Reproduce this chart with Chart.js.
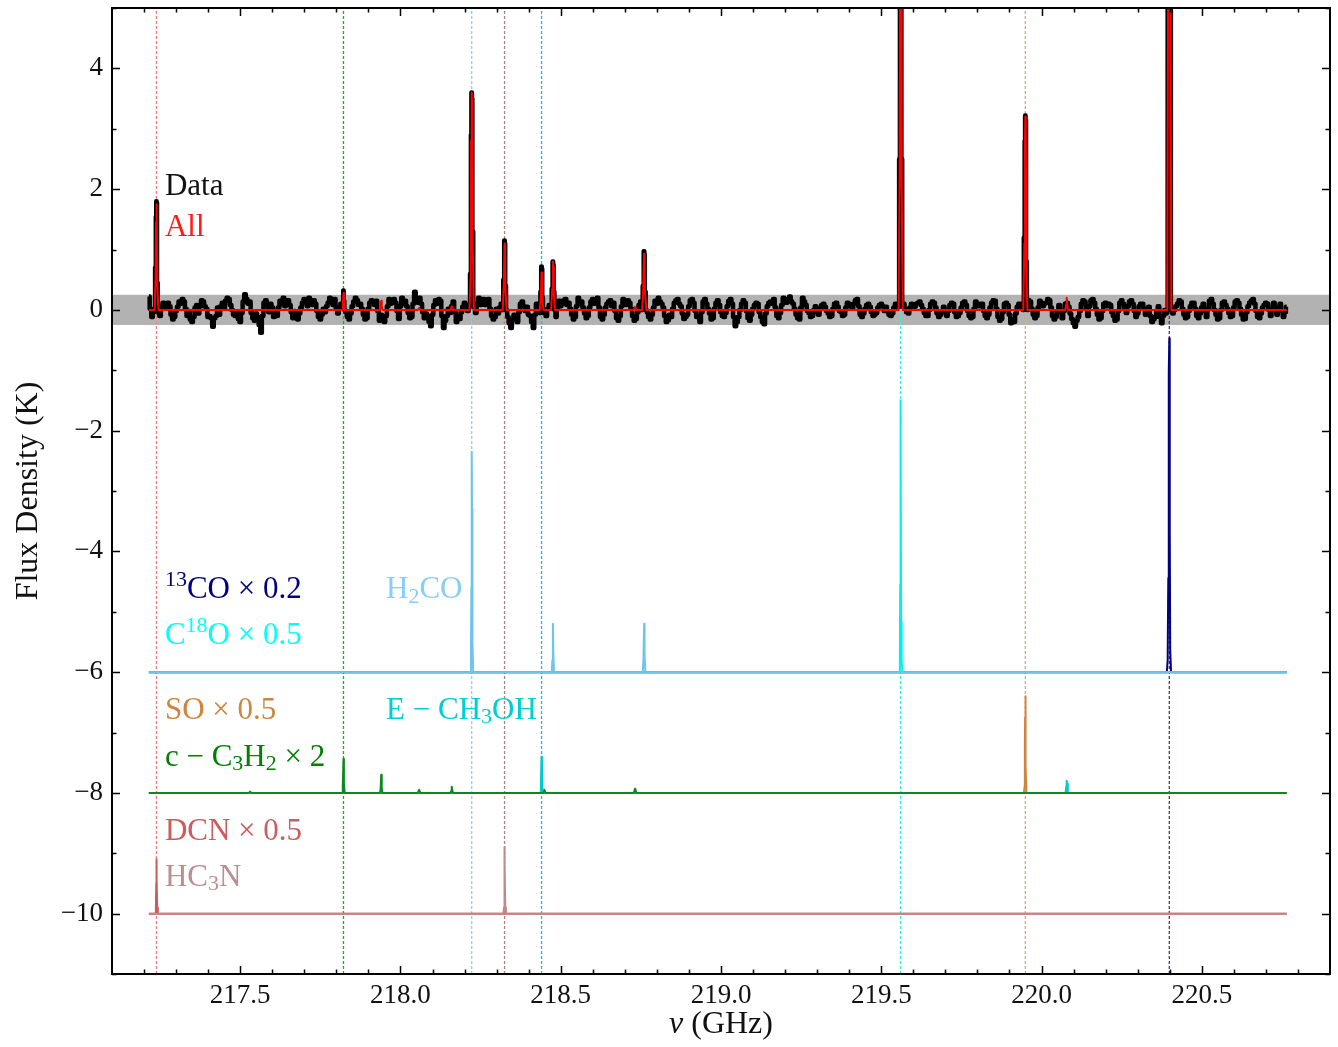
<!DOCTYPE html>
<html>
<head>
<meta charset="utf-8">
<script src="https://cdn.jsdelivr.net/npm/chart.js@4/dist/chart.umd.min.js"></script>
<style>html,body{margin:0;padding:0;background:#fff;}canvas{display:block;}</style>
</head>
<body>
<canvas id="c" width="1338" height="1047"></canvas>
<script>
// ================= DATA =================
const xTickValues = [217.5, 218.0, 218.5, 219.0, 219.5, 220.0, 220.5];
const yTickValues = [-10, -8, -6, -4, -2, 0, 2, 4];

// observed spectrum: noise channels (K), starting at 217.215 GHz every 0.01 GHz
const noiseStart = 217.215;
const noiseStep = 0.01;
const noiseValues = [
  0.22,-0.12,0.08,-0.05,0.05,0.10,0.12,-0.08,-0.12,0.05,
  0.10,0.14,-0.10,-0.16,-0.12,0.08,0.06,0.14,0.02,-0.10,
  -0.28,-0.10,-0.08,0.12,0.15,0.18,0.00,-0.10,-0.15,-0.05,
  0.26,0.10,-0.05,-0.18,-0.12,-0.38,0.12,0.06,0.10,-0.12,
  -0.10,0.15,0.20,0.12,0.08,-0.14,-0.10,-0.06,0.12,0.16,
  0.20,0.08,0.10,-0.12,-0.08,-0.04,0.12,0.16,0.18,-0.06,
  0.10,0.05,-0.12,-0.06,0.14,0.16,0.10,-0.08,-0.14,0.12,
  0.10,0.15,-0.18,-0.10,-0.10,0.18,0.12,0.12,-0.15,0.20,
  0.15,-0.05,-0.12,0.30,0.12,0.10,-0.14,-0.10,-0.27,0.08,
  0.10,0.15,-0.30,-0.10,-0.05,0.14,-0.20,-0.15,0.05,0.08,
  0.05,0.10,-0.05,0.20,0.14,0.08,0.18,-0.10,-0.12,-0.06,
  0.10,0.05,-0.12,-0.30,-0.08,-0.20,0.10,0.06,0.05,-0.10,
  -0.30,0.10,-0.05,0.05,-0.10,0.08,0.05,-0.12,0.15,0.10,
  0.18,0.12,-0.08,-0.12,0.20,0.14,-0.06,-0.10,0.14,0.10,
  0.20,-0.12,-0.08,0.10,0.16,0.12,-0.14,-0.10,0.18,0.08,
  0.12,-0.10,-0.15,0.08,0.05,0.10,-0.12,-0.08,0.15,0.20,
  0.10,-0.10,-0.17,-0.12,0.12,0.18,0.06,-0.15,-0.08,0.16,
  0.12,-0.12,-0.20,0.14,0.10,-0.06,-0.14,0.12,0.08,-0.10,
  -0.05,0.15,0.10,-0.27,-0.12,0.10,0.12,-0.14,-0.08,0.08,
  0.10,-0.12,-0.24,0.06,0.14,0.18,-0.10,-0.05,0.20,0.12,
  0.22,0.10,-0.08,-0.16,0.20,0.08,-0.05,-0.10,0.06,-0.08,
  0.08,0.05,-0.06,-0.10,0.10,0.05,-0.04,-0.08,0.12,0.06,
  0.10,0.18,-0.08,-0.06,0.08,0.05,-0.10,-0.05,0.08,0.06,
  0.05,-0.08,-0.06,0.10,0.00,0.08,0.02,-0.06,0.10,0.05,
  0.12,0.08,-0.05,-0.10,0.10,0.12,-0.06,-0.08,0.05,-0.10,
  0.08,0.10,-0.12,-0.05,0.12,0.08,-0.10,-0.12,0.14,0.06,
  0.10,-0.10,-0.08,0.12,0.15,-0.12,-0.15,0.10,0.08,-0.22,
  -0.20,0.05,0.10,0.00,0.12,0.14,-0.08,-0.10,0.15,0.06,
  0.12,0.16,-0.10,-0.12,0.08,-0.14,0.10,0.05,-0.15,-0.28,
  -0.12,0.10,0.14,-0.10,0.16,0.12,-0.08,-0.14,0.10,0.06,
  0.08,-0.10,-0.16,0.12,0.10,-0.05,0.14,0.10,-0.12,0.06,
  0.10,-0.08,0.05,-0.20,-0.12,0.06,-0.22,0.00,-0.10,-0.15,
  0.00,0.10,0.14,-0.08,-0.12,0.06,0.12,-0.10,-0.06,0.10,
  -0.12,0.15,0.10,-0.08,-0.14,0.12,0.08,-0.05,-0.10,0.14,
  0.12,-0.08,-0.15,0.06,0.15,0.10,-0.12,-0.06,0.08,0.10,
  -0.10,0.12,-0.08,0.10,-0.12,0.05
];
// observed spectrum: in-between noise channels (K), at 217.220 GHz every 0.01 GHz
const noiseMidStart = 217.220;
const noiseMidValues = [
  0.02,-0.04,0.10,-0.10,0.12,0.02,0.06,-0.16,-0.02,0.14,
  0.18,0.02,-0.02,-0.20,0.04,-0.06,0.16,0.06,-0.12,-0.14,
  -0.14,0.04,0.06,0.02,0.20,0.08,-0.08,-0.04,-0.20,0.14,
  0.18,0.14,-0.14,-0.06,-0.25,-0.10,0.16,-0.04,0.04,-0.02,
  0.04,0.10,0.06,0.16,-0.04,-0.02,-0.16,0.04,0.18,0.06,
  0.12,0.16,-0.02,-0.16,0.02,0.06,0.20,0.08,0.04,0.02,
  0.14,-0.04,-0.16,0.06,0.20,0.08,0.02,-0.16,0.02,0.16,
  0.08,-0.02,-0.08,-0.20,0.06,0.10,0.18,-0.02,0.06,0.10,
  0.06,-0.14,0.10,0.16,0.20,-0.04,-0.06,-0.20,-0.08,0.16,
  0.18,-0.10,-0.18,0.02,0.06,-0.04,-0.10,-0.04,0.12,-0.02,
  0.12,0.04,0.10,0.08,0.18,0.12,0.02,-0.16,0.02,0.04,
  -0.02,-0.04,-0.22,-0.16,-0.14,-0.04,0.14,-0.02,-0.08,-0.20,
  -0.08,0.04,0.08,-0.06,0.02,-0.04,-0.06,0.04,0.06,0.16,
  0.08,0.02,-0.16,0.06,0.10,0.04,-0.14,0.04,0.18,0.14,
  0.04,-0.16,0.04,0.14,0.06,-0.02,-0.18,0.06,0.12,0.16,
  0.02,-0.18,-0.04,0.14,-0.02,-0.04,-0.16,0.04,0.10,0.14,
  0.04,-0.20,-0.08,0.02,0.16,0.10,-0.06,-0.12,0.06,0.18,
  -0.02,-0.10,-0.04,0.18,0.02,-0.16,0.02,0.16,-0.04,-0.12,
  0.06,0.18,-0.12,-0.20,0.00,0.16,-0.02,-0.18,0.02,0.12,
  -0.04,-0.20,-0.06,0.12,0.10,0.04,-0.14,0.08,0.16,0.18,
  0.14,0.02,-0.14,0.04,0.14,-0.02,-0.12,0.00,-0.04,0.02,
  0.10,-0.02,-0.12,0.02,0.12,-0.02,-0.10,0.04,0.10,0.02,
  0.16,0.06,-0.12,0.02,0.10,-0.04,-0.08,0.04,0.10,-0.02,
  -0.02,-0.10,0.04,0.06,0.04,0.10,-0.04,0.04,0.08,0.10,
  0.14,0.02,-0.10,0.00,0.14,0.04,-0.12,-0.02,-0.04,-0.02,
  0.12,-0.04,-0.10,0.04,0.14,-0.02,-0.14,0.02,0.10,0.10,
  -0.02,-0.14,0.04,0.16,0.02,-0.18,-0.04,0.12,-0.08,-0.16,
  -0.06,0.10,0.04,0.08,0.16,0.02,-0.14,0.04,0.12,0.10,
  0.18,0.04,-0.16,-0.02,-0.04,-0.02,0.12,-0.06,-0.22,-0.18,
  -0.02,0.16,0.02,0.06,0.18,0.02,-0.16,-0.02,0.12,0.10,
  -0.04,-0.18,-0.02,0.16,0.04,0.06,0.16,-0.02,-0.06,0.10,
  0.02,-0.02,-0.10,-0.16,-0.04,-0.12,-0.10,-0.06,-0.16,-0.06,
  0.06,0.16,0.02,-0.14,-0.02,0.12,0.02,-0.14,0.04,-0.02,
  0.02,0.18,0.00,-0.16,0.00,0.14,0.02,-0.12,0.04,0.16,
  0.02,-0.16,-0.04,0.12,0.18,-0.02,-0.14,0.04,0.12,0.00,
  0.02,0.04,0.02,-0.02,-0.04
];
// observed spectrum: emission line channels [GHz, K]
const dataPeaks = [
  [[217.233,0.02],[217.236,0.70],[217.2375,1.55],[217.2386,1.80],[217.2398,1.78],[217.241,0.45],[217.244,0.00]],
  [[217.818,0.02],[217.8205,0.12],[217.8222,0.32],[217.8235,0.15],[217.826,0.00]],
  [[218.215,0.05],[218.219,0.60],[218.2205,2.90],[218.2222,3.60],[218.2235,3.50],[218.225,1.30],[218.229,0.05]],
  [[218.319,0.00],[218.3225,0.50],[218.3247,1.15],[218.326,1.10],[218.3275,0.40],[218.331,0.00]],
  [[218.435,-0.05],[218.438,0.30],[218.4401,0.72],[218.4415,0.68],[218.443,0.20],[218.446,0.00]],
  [[218.470,0.02],[218.4735,0.35],[218.4756,0.80],[218.477,0.75],[218.4785,0.30],[218.482,0.00]],
  [[218.754,0.00],[218.7575,0.40],[218.7601,0.97],[218.7615,0.92],[218.763,0.30],[218.767,0.00]],
  [[219.554,0.05],[219.5575,2.50],[219.559,7.00],[219.5604,9.00],[219.562,8.00],[219.5635,2.50],[219.567,0.05]],
  [[219.943,0.00],[219.9465,1.20],[219.9482,2.80],[219.9494,3.22],[219.9508,3.15],[219.9525,0.80],[219.956,0.00]],
  [[220.392,0.00],[220.395,6.0],[220.397,20.0],[220.3987,27.0],[220.400,22.0],[220.402,6.0],[220.405,0.00]]
];
// total model ("All") emission lines [GHz, K]
const modelPeaks = [
  [[217.233,0],[217.236,0.55],[217.2375,1.45],[217.2386,1.75],[217.240,1.60],[217.2415,0.40],[217.245,0]],
  [[217.818,0],[217.8205,0.12],[217.8222,0.28],[217.8237,0.12],[217.826,0]],
  [[217.936,0],[217.9385,0.06],[217.940,0.15],[217.9415,0.06],[217.944,0]],
  [[218.054,0],[218.058,0.03],[218.062,0]],
  [[218.156,0],[218.160,0.06],[218.164,0]],
  [[218.215,0],[218.219,0.55],[218.2205,2.80],[218.2222,3.60],[218.2235,3.40],[218.225,1.20],[218.229,0]],
  [[218.319,0],[218.3225,0.45],[218.3247,1.10],[218.326,1.05],[218.3275,0.35],[218.331,0]],
  [[218.435,0],[218.438,0.25],[218.4401,0.62],[218.4415,0.55],[218.443,0.15],[218.446,0]],
  [[218.470,0],[218.4735,0.35],[218.4756,0.80],[218.477,0.72],[218.4785,0.25],[218.482,0]],
  [[218.728,0],[218.732,0.05],[218.736,0]],
  [[218.754,0],[218.7575,0.38],[218.7601,0.93],[218.7615,0.85],[218.763,0.28],[218.767,0]],
  [[219.554,0],[219.5575,2.40],[219.559,7.00],[219.5604,9.00],[219.562,7.50],[219.5635,2.20],[219.567,0]],
  [[219.943,0],[219.9465,1.10],[219.9482,2.70],[219.9494,3.20],[219.9508,3.05],[219.9525,0.70],[219.956,0]],
  [[220.074,0],[220.0765,0.08],[220.0785,0.20],[220.080,0.08],[220.083,0]],
  [[220.392,0],[220.395,5.5],[220.397,19.0],[220.3987,27.7],[220.400,21.0],[220.402,5.5],[220.405,0]]
];
const spectrumRange = [217.215, 220.765];
const rmsBand = [-0.25, 0.25];

// species components (scaled as labelled), heights above their offset [GHz, K]
const compNames   = ['13CO', 'C18O', 'H2CO', 'SO', 'E-CH3OH', 'c-C3H2', 'DCN', 'HC3N'];
const compOffsets = [-6, -6, -6, -8, -8, -8, -10, -10];
const compPeaks = [
  [ [[220.391,0],[220.3935,0.2],[220.3955,1.56],[220.397,4.98],[220.3987,5.53],[220.400,2.33],[220.4015,0.37],[220.404,0]] ],
  [ [[219.556,0],[219.558,0.2],[219.559,1.45],[219.5597,4.5],[219.5604,4.5],[219.561,3.77],[219.562,0.83],[219.5635,0.2],[219.566,0]] ],
  [ [[218.218,0],[218.220,0.4],[218.2212,1.4],[218.2222,3.65],[218.2232,2.7],[218.2245,0.5],[218.227,0]],
    [[218.472,0],[218.474,0.2],[218.4756,0.8],[218.477,0.3],[218.479,0]],
    [[218.756,0],[218.758,0.2],[218.7601,0.8],[218.7615,0.3],[218.764,0]] ],
  [ [[219.945,0],[219.947,0.1],[219.948,0.8],[219.9488,1.25],[219.9494,1.6],[219.951,0.45],[219.953,0]] ],
  [ [[218.436,0],[218.438,0.1],[218.4401,0.6],[218.4415,0.2],[218.444,0]],
    [[220.075,0],[220.077,0.1],[220.0785,0.2],[220.080,0.15],[220.082,0]] ],
  [ [[217.527,0],[217.531,0.02],[217.535,0]],
    [[217.818,0],[217.820,0.1],[217.8222,0.56],[217.8235,0.15],[217.826,0]],
    [[217.936,0],[217.938,0.06],[217.940,0.3],[217.9415,0.08],[217.944,0]],
    [[218.054,0],[218.058,0.05],[218.062,0]],
    [[218.156,0],[218.158,0.03],[218.160,0.1],[218.162,0.03],[218.164,0]],
    [[218.445,0],[218.449,0.05],[218.453,0]],
    [[218.728,0],[218.732,0.07],[218.736,0]] ],
  [ [[217.235,0],[217.237,0.1],[217.238,0.5],[217.2386,0.9],[217.2395,0.6],[217.241,0.1],[217.243,0]] ],
  [ [[218.321,0],[218.323,0.1],[218.324,0.6],[218.3247,1.1],[218.3255,0.8],[218.327,0.1],[218.329,0]] ]
];

// rest frequencies of identified lines (GHz)
const lineFreqs = [217.2386, 217.8222, 218.2222, 218.3247, 218.4401, 219.5604, 219.9494, 220.3987];

// text labels: list of [text, 'sup'|'sub'|'']
const labelParts = [
  [['Data','']],
  [['All','']],
  [['13','sup'],['CO \u00d7 0.2','']],
  [['C',''],['18','sup'],['O \u00d7 0.5','']],
  [['H',''],['2','sub'],['CO','']],
  [['SO \u00d7 0.5','']],
  [['E \u2212 CH',''],['3','sub'],['OH','']],
  [['c \u2212 C',''],['3','sub'],['H',''],['2','sub'],[' \u00d7 2','']],
  [['DCN \u00d7 0.5','']],
  [['HC',''],['3','sub'],['N','']]
];
const xTitleParts = [['\u03bd', 'italic'], [' (GHz)', 'normal']];

// ================= STYLE / LAYOUT =================
const compColors = ['#000080', '#00f0f0', '#6fc3ef', '#cd853f', '#00c8cc', '#0a8a1e', '#cd5c5c', '#c08888'];
const compOrder  = [10, 9, 8, 7, 6, 5, 4, 3];
const lineColors = ['#f08080', '#00c000', '#87cefa', '#b08080', '#10c4c4', '#30f0f0', '#e0a870', '#6a2a6a'];
const labelColors = ['#111111', '#ff1a1a', '#000080', '#00ffff', '#87cefa', '#cd853f', '#00ced1', '#008000', '#cd5c5c', '#bc8f8f'];
const labelPos = [
  [217.265, 2.04], [217.265, 1.36], [217.265, -4.64], [217.265, -5.40], [217.955, -4.64],
  [217.265, -6.64], [217.955, -6.64], [217.265, -7.42], [217.265, -8.64], [217.265, -9.40]
];
const FONT = '"Liberation Serif", "Times New Roman", serif';

// ================= BUILD =================
function flatPeaks(peaks, offset) {
  const pts = [];
  peaks.forEach(p => p.forEach(([f, v]) => pts.push({x: f, y: v + offset})));
  return pts;
}
const dataWindows = dataPeaks.map(p => [p[0][0], p[p.length - 1][0]]);
const inWin = f => dataWindows.some(w => f >= w[0] && f <= w[1]);
const dataPts = [];
noiseValues.forEach((v, i) => {
  const f = noiseStart + i * noiseStep;
  if (!inWin(f)) dataPts.push({x: f, y: v});
});
noiseMidValues.forEach((v, i) => {
  const f = noiseMidStart + i * noiseStep;
  if (!inWin(f)) dataPts.push({x: f, y: v});
});
flatPeaks(dataPeaks, 0).forEach(p => dataPts.push(p));
dataPts.sort((a, b) => a.x - b.x);

const modelPts = [{x: spectrumRange[0], y: 0}].concat(flatPeaks(modelPeaks, 0), [{x: spectrumRange[1], y: 0}]);
modelPts.sort((a, b) => a.x - b.x);

const datasets = [];
datasets.push({label: 'All', data: modelPts, borderColor: '#ff0000', borderWidth: 2, order: 1});
datasets.push({label: 'Data', data: dataPts, borderColor: '#000000', borderWidth: 4.5, order: 2, stepped: 'middle'});
compNames.forEach((n, i) => {
  const off = compOffsets[i];
  const pts = [{x: spectrumRange[0], y: off}].concat(flatPeaks(compPeaks[i], off), [{x: spectrumRange[1], y: off}]);
  pts.sort((a, b) => a.x - b.x);
  datasets.push({label: n, data: pts, borderColor: compColors[i], borderWidth: 2, order: compOrder[i]});
});
lineFreqs.forEach((f, i) => {
  datasets.push({label: 'line' + i, data: [{x: f, y: -11}, {x: f, y: 5}], borderColor: lineColors[i],
    borderWidth: 1.3, borderDash: [3, 2], order: 30 + i});
});
datasets.forEach(d => { d.pointRadius = 0; d.borderJoinStyle = 'round'; d.clip = 0; d.fill = false; d.tension = 0; });

const bandPlugin = {
  id: 'band',
  beforeDatasetsDraw(chart) {
    const {ctx, chartArea: a, scales: {y}} = chart;
    const y1 = y.getPixelForValue(rmsBand[1]), y0 = y.getPixelForValue(rmsBand[0]);
    ctx.save();
    ctx.fillStyle = '#b2b2b2';
    ctx.fillRect(a.left, y1, a.right - a.left, y0 - y1);
    ctx.restore();
  }
};

const framePlugin = {
  id: 'frame',
  afterDatasetsDraw(chart) {
    const {ctx, chartArea: a, scales: {x, y}} = chart;
    ctx.save();
    ctx.strokeStyle = '#000';
    ctx.lineWidth = 1.5;
    ctx.beginPath();
    const maj = 8, mnr = 4.5;
    for (let k = 2172; k <= 2208; k++) {
      const v = k / 10;
      const isMaj = k % 5 === 0;
      const px = Math.round(x.getPixelForValue(v)) + 0.5;
      const L = isMaj ? maj : mnr;
      ctx.moveTo(px, a.bottom); ctx.lineTo(px, a.bottom - L);
      ctx.moveTo(px, a.top); ctx.lineTo(px, a.top + L);
    }
    for (let v = -11; v <= 5; v++) {
      const isMaj = v % 2 === 0;
      const py = Math.round(y.getPixelForValue(v)) + 0.5;
      const L = isMaj ? maj : mnr;
      ctx.moveTo(a.left, py); ctx.lineTo(a.left + L, py);
      ctx.moveTo(a.right, py); ctx.lineTo(a.right - L, py);
    }
    ctx.stroke();
    ctx.lineWidth = 2;
    ctx.strokeRect(a.left, a.top, a.right - a.left, a.bottom - a.top);
    ctx.restore();
  }
};

const labelPlugin = {
  id: 'labels',
  afterDatasetsDraw(chart) {
    const {ctx, scales: {x, y}, chartArea: a} = chart;
    const size = 31;
    ctx.save();
    ctx.textBaseline = 'middle';
    ctx.textAlign = 'left';
    labelParts.forEach((parts, i) => {
      let cx = x.getPixelForValue(labelPos[i][0]);
      const cy = y.getPixelForValue(labelPos[i][1]);
      ctx.fillStyle = labelColors[i];
      parts.forEach(([t, mode]) => {
        const fs = mode ? Math.round(size * 0.7) : size;
        ctx.font = fs + 'px ' + FONT;
        const dy = mode === 'sup' ? -size * 0.3 : (mode === 'sub' ? size * 0.22 : 0);
        ctx.fillText(t, cx, cy + dy);
        cx += ctx.measureText(t).width;
      });
    });
    // x-axis title with italic nu, centred under the plot area
    const tsz = 32;
    let total = 0;
    xTitleParts.forEach(([t, st]) => { ctx.font = st + ' ' + tsz + 'px ' + FONT; total += ctx.measureText(t).width; });
    let tx = (a.left + a.right) / 2 - total / 2;
    ctx.fillStyle = '#111';
    xTitleParts.forEach(([t, st]) => {
      ctx.font = st + ' ' + tsz + 'px ' + FONT;
      ctx.fillText(t, tx, 1025);
      tx += ctx.measureText(t).width;
    });
    ctx.restore();
  }
};

function make() {
  Chart.defaults.font.family = FONT;
  Chart.defaults.color = '#111';
  new Chart(document.getElementById('c'), {
    type: 'line',
    data: {datasets},
    options: {
      responsive: false,
      animation: false,
      devicePixelRatio: 1,
      events: [],
      layout: {padding: {top: 8, right: 8, left: 0, bottom: 0}},
      plugins: {legend: {display: false}, tooltip: {enabled: false}},
      scales: {
        x: {
          type: 'linear', min: 217.1, max: 220.9,
          grid: {display: false, drawTicks: false}, border: {display: false},
          afterBuildTicks: s => { s.ticks = xTickValues.map(v => ({value: v})); },
          afterFit: s => { s.height = 73; s.paddingLeft = 0; s.paddingRight = 0; },
          ticks: {font: {size: 27}, padding: 6, maxRotation: 0, autoSkip: false,
                  callback: v => Number(v).toFixed(1)},
          title: {display: false}
        },
        y: {
          type: 'linear', min: -11, max: 5,
          grid: {display: false, drawTicks: false}, border: {display: false},
          afterBuildTicks: s => { s.ticks = yTickValues.map(v => ({value: v})); },
          afterFit: s => { s.width = 112; s.paddingTop = 0; s.paddingBottom = 0; },
          ticks: {font: {size: 27}, padding: 9, autoSkip: false,
                  callback: v => (v < 0 ? '\u2212' : '') + Math.abs(v)},
          title: {display: true, text: 'Flux Density (K)', font: {size: 32}, padding: {top: 9, bottom: 0}}
        }
      }
    },
    plugins: [bandPlugin, framePlugin, labelPlugin]
  });
}
if (document.fonts && document.fonts.load) {
  document.fonts.load('27px "Liberation Serif"').then(make, make);
} else { make(); }
</script>
</body>
</html>
